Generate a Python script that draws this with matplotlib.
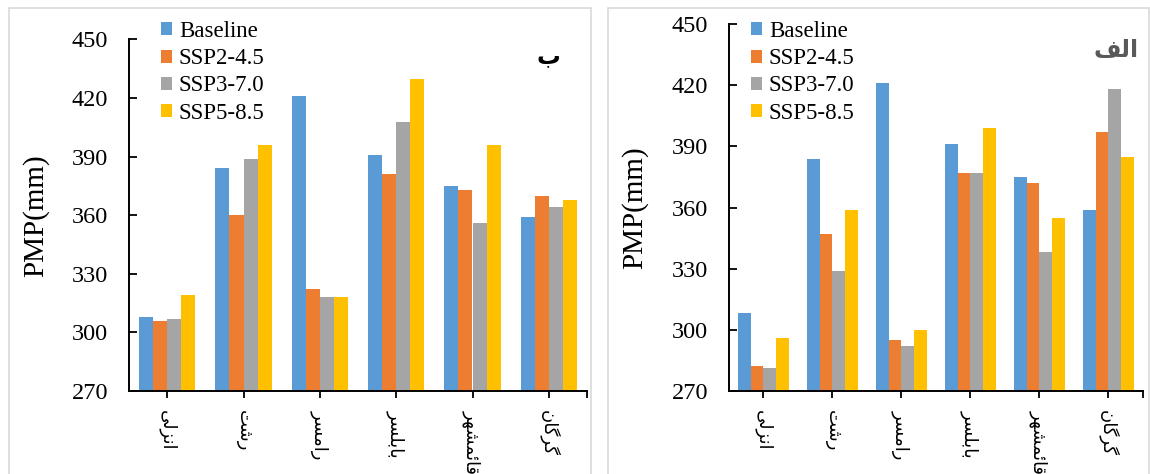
import matplotlib
matplotlib.use('Agg')
import matplotlib.pyplot as plt
import numpy as np
from matplotlib.patches import Rectangle

# ---------------- data ----------------
categories = ['انزلی', 'رشت', 'رامسر', 'بابلسر', 'قائمشهر', 'گرگان']
series_names = ['Baseline', 'SSP2-4.5', 'SSP3-7.0', 'SSP5-8.5']
series_colors = ['#5B9BD5', '#ED7D31', '#A5A5A5', '#FFC000']

# panel "ب" (left)
b_baseline = [308, 384, 421, 391, 375, 359]
b_ssp245 = [306, 360, 322, 381, 373, 370]
b_ssp370 = [307, 389, 318, 408, 356, 364]
b_ssp585 = [319, 396, 318, 430, 396, 368]

# panel "الف" (right)
a_baseline = [308, 384, 421, 391, 375, 359]
a_ssp245 = [282, 347, 295, 377, 372, 397]
a_ssp370 = [281, 329, 292, 377, 338, 418]
a_ssp585 = [296, 359, 300, 399, 355, 385]

yticks = [270, 300, 330, 360, 390, 420, 450]
ylabel = 'PMP(mm)'
panel_left_title = 'ب'
panel_right_title = 'الف'

# ---------------- minimal Persian shaping (matplotlib has no shaping) ----------------
FORMS = {  # isolated, final, initial, medial
    'ا': ('\uFE8D', '\uFE8E', None, None),
    'ب': ('\uFE8F', '\uFE90', '\uFE91', '\uFE92'),
    'ت': ('\uFE95', '\uFE96', '\uFE97', '\uFE98'),
    'ر': ('\uFEAD', '\uFEAE', None, None),
    'ز': ('\uFEAF', '\uFEB0', None, None),
    'س': ('\uFEB1', '\uFEB2', '\uFEB3', '\uFEB4'),
    'ش': ('\uFEB5', '\uFEB6', '\uFEB7', '\uFEB8'),
    'ف': ('\uFED1', '\uFED2', '\uFED3', '\uFED4'),
    'ق': ('\uFED5', '\uFED6', '\uFED7', '\uFED8'),
    'ل': ('\uFEDD', '\uFEDE', '\uFEDF', '\uFEE0'),
    'م': ('\uFEE1', '\uFEE2', '\uFEE3', '\uFEE4'),
    'ن': ('\uFEE5', '\uFEE6', '\uFEE7', '\uFEE8'),
    'ه': ('\uFEE9', '\uFEEA', '\uFEEB', '\uFEEC'),
    'ئ': ('\uFE89', '\uFE8A', '\uFE8B', '\uFE8C'),
    '\u06CC': ('\uFBFC', '\uFBFD', '\uFBFE', '\uFBFF'),
    '\u06AF': ('\uFB92', '\uFB93', '\uFB94', '\uFB95'),
}


def shape(text):
    text = text.replace('\u064A', '\u06CC').replace('\u0649', '\u06CC')
    out = []
    n = len(text)
    for i, ch in enumerate(text):
        f = FORMS.get(ch)
        if f is None:
            out.append(ch)
            continue
        prev = text[i - 1] if i > 0 else None
        nxt = text[i + 1] if i < n - 1 else None
        jp = prev is not None and prev in FORMS and FORMS[prev][2] is not None
        jn = f[2] is not None and nxt is not None and nxt in FORMS
        if jp and jn:
            out.append(f[3])
        elif jp:
            out.append(f[1])
        elif jn:
            out.append(f[2])
        else:
            out.append(f[0])
    return ''.join(reversed(out))


# ---------------- figure ----------------
W, H = 1150, 474
fig = plt.figure(figsize=(W / 100, H / 100), dpi=100)
serif = 'Liberation Serif'


def fx(px):
    return px / W


def fy(py):
    return 1 - py / H


def draw_panel(rect, data, title, title_xy, title_color, leg_xy, ylabel_x):
    ax = fig.add_axes(rect)
    x = np.arange(len(categories))
    w = 0.1835
    bars = []
    for k, (vals, col) in enumerate(zip(data, series_colors)):
        b = ax.bar(x + (k - 1.5) * w, np.array(vals) - 270, bottom=270, width=w,
                   color=col, edgecolor='none', label=series_names[k])
        bars.append(b)
    ax.set_xlim(-0.5, len(categories) - 0.5)
    ax.set_ylim(270, 450)
    ax.set_yticks(yticks)
    ax.set_yticklabels([str(t) for t in yticks], fontfamily=serif, fontsize=17.5)
    ax.set_xticks(x)
    ax.set_xticklabels([shape(c) for c in categories], rotation=270,
                       fontfamily='DejaVu Sans', fontsize=13, ha='center', va='top')
    ax.set_xticks([len(categories) - 0.5], minor=True)
    ax.tick_params(axis='y', direction='in', length=6, width=1.3, pad=15)
    ax.tick_params(axis='x', which='both', direction='out', length=5, width=1.3, pad=9)
    for s in ('top', 'right'):
        ax.spines[s].set_visible(False)
    for s in ('left', 'bottom'):
        ax.spines[s].set_linewidth(1.4)
        ax.spines[s].set_color('black')
    ax.set_ylabel(ylabel, fontfamily=serif, fontsize=21)
    ax.yaxis.set_label_coords(ylabel_x, 0.5)
    ax.legend(handles=bars, labels=series_names, loc='upper left',
              bbox_to_anchor=leg_xy, bbox_transform=fig.transFigure,
              frameon=False, borderpad=0, borderaxespad=0,
              handlelength=0.5, handleheight=0.5, handletextpad=0.28,
              labelspacing=0.27, prop=dict(family=serif, size=16.5))
    fig.text(title_xy[0], title_xy[1], shape(title), ha='center', va='center',
             fontfamily='DejaVu Sans', fontweight='bold', fontsize=17,
             color=title_color)
    return ax


# border boxes
fig.add_artist(Rectangle((fx(9), -0.1), fx(591) - fx(9), fy(8) + 0.1,
                         transform=fig.transFigure, fill=False,
                         edgecolor='#D9D9D9', lw=1.2))
fig.add_artist(Rectangle((fx(608), -0.1), fx(1149) - fx(608), fy(8) + 0.1,
                         transform=fig.transFigure, fill=False,
                         edgecolor='#D9D9D9', lw=1.2))

left_rect = [fx(129), fy(391), fx(587) - fx(129), fy(39.5) - fy(391)]
right_rect = [fx(729), fy(390.7), fx(1142.7) - fx(729), fy(24.3) - fy(390.7)]

draw_panel(left_rect, [b_baseline, b_ssp245, b_ssp370, b_ssp585],
           panel_left_title, (fx(548), fy(56)), 'black',
           (fx(161), fy(21)), (49 - 129) / (587 - 129))
draw_panel(right_rect, [a_baseline, a_ssp245, a_ssp370, a_ssp585],
           panel_right_title, (fx(1116), fy(50)), '#595959',
           (fx(751), fy(21)), (648 - 729) / (1142.7 - 729))

fig.savefig('out.png', dpi=100)
